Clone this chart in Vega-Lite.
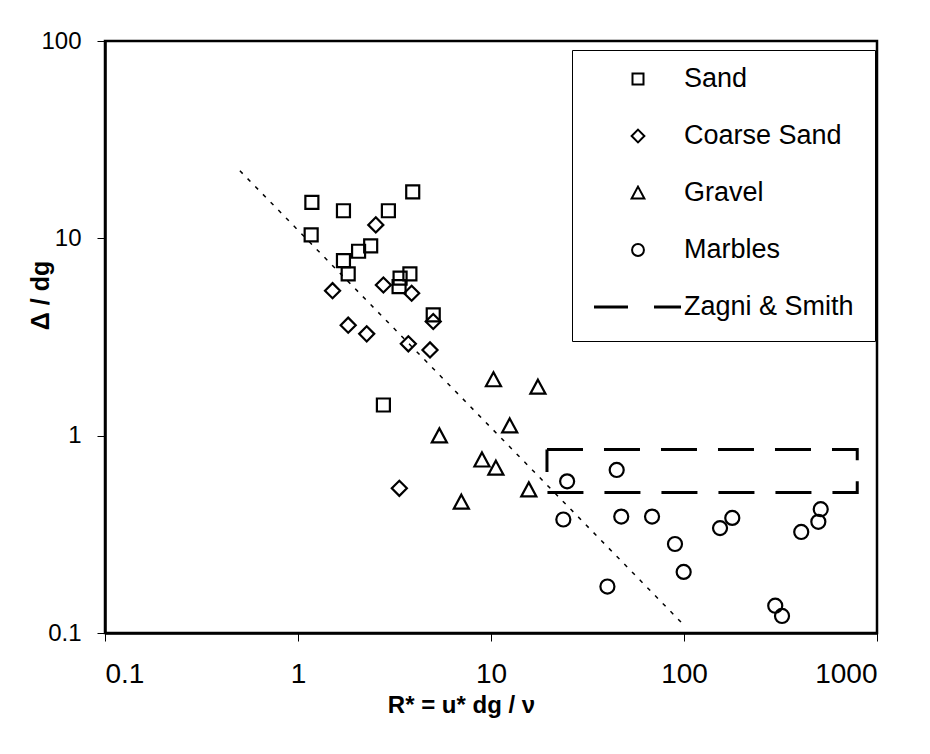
{
  "$schema": "https://vega.github.io/schema/vega-lite/v6.json",
  "width": 772,
  "height": 592,
  "autosize": {"type": "none"},
  "padding": {"left": 105, "top": 41, "right": 53, "bottom": 121},
  "background": "white",
  "config": {
    "font": "Liberation Sans",
    "view": {"stroke": "black", "strokeWidth": 2.5},
    "axis": {"domainColor": "black", "domainWidth": 2.5, "tickColor": "black", "tickWidth": 1, "tickSize": 8, "grid": false, "labelColor": "black", "titleColor": "black", "labelFont": "Liberation Sans", "titleFont": "Liberation Sans"},
    "legend": {"strokeWidth": 1}
  },
  "datasets": {
    "points": [
      {"material": "Sand", "Rstar": 1.18, "ratio": 15.2},
      {"material": "Sand", "Rstar": 1.17, "ratio": 10.4},
      {"material": "Sand", "Rstar": 1.72, "ratio": 13.8},
      {"material": "Sand", "Rstar": 2.94, "ratio": 13.8},
      {"material": "Sand", "Rstar": 3.93, "ratio": 17.2},
      {"material": "Sand", "Rstar": 2.38, "ratio": 9.15},
      {"material": "Sand", "Rstar": 2.06, "ratio": 8.6},
      {"material": "Sand", "Rstar": 1.72, "ratio": 7.71},
      {"material": "Sand", "Rstar": 1.82, "ratio": 6.6},
      {"material": "Sand", "Rstar": 3.8, "ratio": 6.6},
      {"material": "Sand", "Rstar": 3.38, "ratio": 6.28},
      {"material": "Sand", "Rstar": 3.34, "ratio": 5.69},
      {"material": "Sand", "Rstar": 5.02, "ratio": 4.09},
      {"material": "Sand", "Rstar": 2.77, "ratio": 1.43},
      {"material": "Coarse Sand", "Rstar": 2.53, "ratio": 11.7},
      {"material": "Coarse Sand", "Rstar": 2.77, "ratio": 5.8},
      {"material": "Coarse Sand", "Rstar": 3.88, "ratio": 5.27},
      {"material": "Coarse Sand", "Rstar": 1.51, "ratio": 5.43},
      {"material": "Coarse Sand", "Rstar": 1.82, "ratio": 3.63},
      {"material": "Coarse Sand", "Rstar": 2.27, "ratio": 3.28},
      {"material": "Coarse Sand", "Rstar": 5.02, "ratio": 3.79},
      {"material": "Coarse Sand", "Rstar": 3.73, "ratio": 2.92},
      {"material": "Coarse Sand", "Rstar": 4.83, "ratio": 2.72},
      {"material": "Coarse Sand", "Rstar": 3.35, "ratio": 0.541},
      {"material": "Gravel", "Rstar": 10.3, "ratio": 1.92},
      {"material": "Gravel", "Rstar": 17.5, "ratio": 1.76},
      {"material": "Gravel", "Rstar": 12.5, "ratio": 1.12},
      {"material": "Gravel", "Rstar": 5.4, "ratio": 0.997},
      {"material": "Gravel", "Rstar": 8.98, "ratio": 0.753},
      {"material": "Gravel", "Rstar": 10.6, "ratio": 0.684},
      {"material": "Gravel", "Rstar": 15.7, "ratio": 0.531},
      {"material": "Gravel", "Rstar": 7.02, "ratio": 0.46},
      {"material": "Marbles", "Rstar": 24.8, "ratio": 0.587},
      {"material": "Marbles", "Rstar": 44.8, "ratio": 0.67},
      {"material": "Marbles", "Rstar": 23.7, "ratio": 0.376},
      {"material": "Marbles", "Rstar": 47.3, "ratio": 0.389},
      {"material": "Marbles", "Rstar": 68.3, "ratio": 0.389},
      {"material": "Marbles", "Rstar": 89.8, "ratio": 0.2825},
      {"material": "Marbles", "Rstar": 99.6, "ratio": 0.204},
      {"material": "Marbles", "Rstar": 40.1, "ratio": 0.172},
      {"material": "Marbles", "Rstar": 153.7, "ratio": 0.34},
      {"material": "Marbles", "Rstar": 177.9, "ratio": 0.383},
      {"material": "Marbles", "Rstar": 405, "ratio": 0.325},
      {"material": "Marbles", "Rstar": 496.6, "ratio": 0.366},
      {"material": "Marbles", "Rstar": 511, "ratio": 0.424},
      {"material": "Marbles", "Rstar": 297, "ratio": 0.1375},
      {"material": "Marbles", "Rstar": 322, "ratio": 0.122}
    ],
    "trend": [
      {"Rstar": 0.5, "ratio": 22},
      {"Rstar": 97, "ratio": 0.113}
    ],
    "zagni": [
      {"step": 1, "Rstar": 19.5, "ratio": 0.85},
      {"step": 2, "Rstar": 790, "ratio": 0.85},
      {"step": 3, "Rstar": 790, "ratio": 0.515},
      {"step": 4, "Rstar": 19.5, "ratio": 0.515},
      {"step": 5, "Rstar": 19.5, "ratio": 0.85}
    ]
  },
  "encoding": {
    "x": {
      "field": "Rstar", "type": "quantitative",
      "scale": {"type": "log", "domain": [0.1, 1000], "nice": false},
      "axis": {"values": [0.1, 1, 10, 100, 1000], "format": "~g", "labelFontSize": 28, "labelPadding": 19, "title": "R* = u* dg / ν", "titleFontSize": 24, "titleFontWeight": "bold", "titleX": 356, "titleY": 60, "titleAlign": "center", "titleBaseline": "top"}
    },
    "y": {
      "field": "ratio", "type": "quantitative",
      "scale": {"type": "log", "domain": [0.1, 100], "nice": false},
      "axis": {"values": [0.1, 1, 10, 100], "format": "~g", "labelFontSize": 24, "labelPadding": 16, "title": "Δ / dg", "titleFontSize": 25, "titleFontWeight": "bold", "titleX": -65, "titleY": 254, "titleAngle": -90, "titleAlign": "center", "titleBaseline": "middle"}
    }
  },
  "layer": [
    {
      "data": {"name": "trend"},
      "mark": {"type": "line", "color": "black", "strokeWidth": 1.5, "strokeDash": [4, 7]}
    },
    {
      "data": {"name": "zagni"},
      "mark": {"type": "line", "color": "black", "strokeWidth": 3, "strokeDash": [36, 21]},
      "encoding": {"order": {"field": "step", "type": "quantitative"}}
    },
    {
      "data": {"name": "points"},
      "mark": {"type": "point", "filled": false, "color": "black", "strokeWidth": 2.2, "size": 10816, "opacity": 1},
      "encoding": {
        "shape": {
          "field": "material", "type": "nominal",
          "scale": {
            "domain": ["Sand", "Coarse Sand", "Gravel", "Marbles", "Zagni & Smith"],
            "range": [
              "M-0.125,-0.125H0.125V0.125H-0.125Z",
              "M0,-0.145L0.145,0L0,0.145L-0.145,0Z",
              "M0,-0.145L0.145,0.125L-0.145,0.125Z",
              "M0.135,0A0.135,0.135,0,1,1,-0.135,0A0.135,0.135,0,1,1,0.135,0Z",
              "M-1,-0.012H-0.227M-1,0.012H-0.227M0.364,-0.012H0.977M0.364,0.012H0.977"
            ]
          },
          "legend": {
            "title": null, "orient": "none", "legendX": 467, "legendY": 9,
            "direction": "vertical", "columns": 1, "padding": 21,
            "strokeColor": "black", "fillColor": "white",
            "symbolSize": 7744, "symbolStrokeWidth": 2, "symbolStrokeColor": "black",
            "labelFontSize": 27, "labelFont": "Liberation Sans", "labelColor": "black", "labelOffset": 1, "labelLimit": 0,
            "rowPadding": 30, "clipHeight": 16
          }
        }
      }
    }
  ]
}
